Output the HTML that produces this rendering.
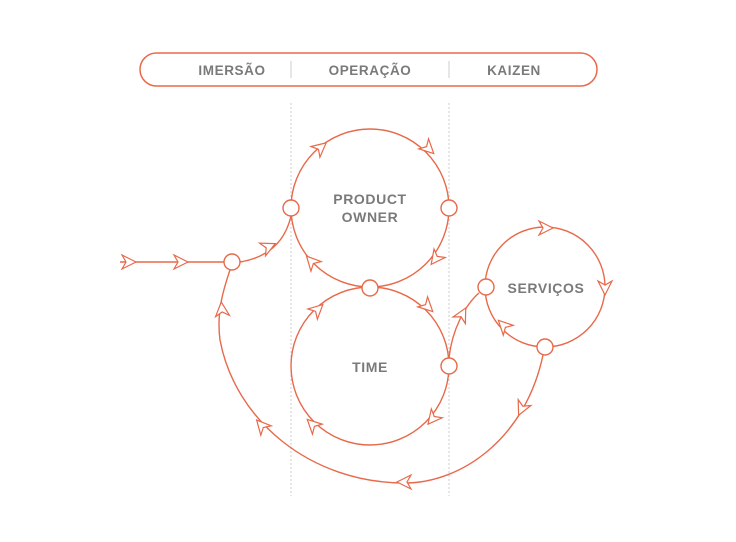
<!DOCTYPE html>
<html><head><meta charset="utf-8"><style>
body{margin:0;background:#fff}
svg text{font-family:"Liberation Sans",sans-serif;font-weight:bold;fill:#7a7a7a;letter-spacing:0.6px}
</style></head><body>
<svg width="736" height="537" viewBox="0 0 736 537" xmlns="http://www.w3.org/2000/svg">
<defs>
<path id="ah" d="M8,0 L-6,-7 L-2,0 L-6,7 Z" fill="#fff" stroke="#e8694a" stroke-width="1.2" stroke-linejoin="miter"/>
</defs>
<rect x="140" y="53" width="457" height="33" rx="16.5" fill="#fff" stroke="#e8694a" stroke-width="1.5"/>
<line x1="291" y1="61" x2="291" y2="78" stroke="#ccc" stroke-width="1"/>
<line x1="449" y1="61" x2="449" y2="78" stroke="#ccc" stroke-width="1"/>
<text x="232" y="75" font-size="13.5" text-anchor="middle">IMERSÃO</text>
<text x="370" y="75" font-size="13.5" text-anchor="middle">OPERAÇÃO</text>
<text x="514" y="75" font-size="13.5" text-anchor="middle">KAIZEN</text>
<line x1="291" y1="103" x2="291" y2="496" stroke="#ccc" stroke-width="1" stroke-dasharray="2,2"/>
<line x1="449" y1="103" x2="449" y2="496" stroke="#ccc" stroke-width="1" stroke-dasharray="2,2"/>
<g fill="none" stroke="#e8694a" stroke-width="1.4">
<circle cx="370" cy="208" r="79"/>
<circle cx="370" cy="366" r="79"/>
<circle cx="545" cy="287" r="60"/>
<line x1="120" y1="262" x2="224" y2="262"/>
<path d="M240,262 Q282,255 291,216"/>
<path d="M449,358 C452,330 465,305 479,293"/>
<path d="M543,355 C525,440 460,483 405,483 C310,483 235,420 220,340 C216,310 225,285 230,270"/>
</g>
<g fill="#fff" stroke="#e8694a" stroke-width="1.4">
<circle cx="291" cy="208" r="8"/><circle cx="449" cy="208" r="8"/>
<circle cx="370" cy="288" r="8"/><circle cx="449" cy="366" r="8"/>
<circle cx="486" cy="287" r="8"/><circle cx="545" cy="347" r="8"/>
<circle cx="232" cy="262" r="8"/>
</g>
<use href="#ah" transform="translate(320,148) rotate(-40)"/>
<use href="#ah" transform="translate(428,148) rotate(44)"/>
<use href="#ah" transform="translate(436,258) rotate(127)"/>
<use href="#ah" transform="translate(312,262) rotate(227)"/>
<use href="#ah" transform="translate(317,310) rotate(-43)"/>
<use href="#ah" transform="translate(427,306) rotate(44)"/>
<use href="#ah" transform="translate(433,418) rotate(129)"/>
<use href="#ah" transform="translate(313,425) rotate(224)"/>
<use href="#ah" transform="translate(545,228) rotate(0)"/>
<use href="#ah" transform="translate(605,287) rotate(90)"/>
<use href="#ah" transform="translate(504,326) rotate(225)"/>
<use href="#ah" transform="translate(522,408) rotate(115)"/>
<use href="#ah" transform="translate(405,482) rotate(180)"/>
<use href="#ah" transform="translate(262,426) rotate(228)"/>
<use href="#ah" transform="translate(222,310) rotate(265)"/>
<use href="#ah" transform="translate(128,262) rotate(0)"/>
<use href="#ah" transform="translate(180,262) rotate(0)"/>
<use href="#ah" transform="translate(268,247) rotate(-25)"/>
<use href="#ah" transform="translate(462,315) rotate(-62)"/>
<text x="370" y="204" font-size="14" text-anchor="middle">PRODUCT</text>
<text x="370" y="222" font-size="14" text-anchor="middle">OWNER</text>
<text x="370" y="372" font-size="14" text-anchor="middle">TIME</text>
<text x="546" y="293" font-size="14" text-anchor="middle">SERVIÇOS</text>
</svg>
</body></html>
